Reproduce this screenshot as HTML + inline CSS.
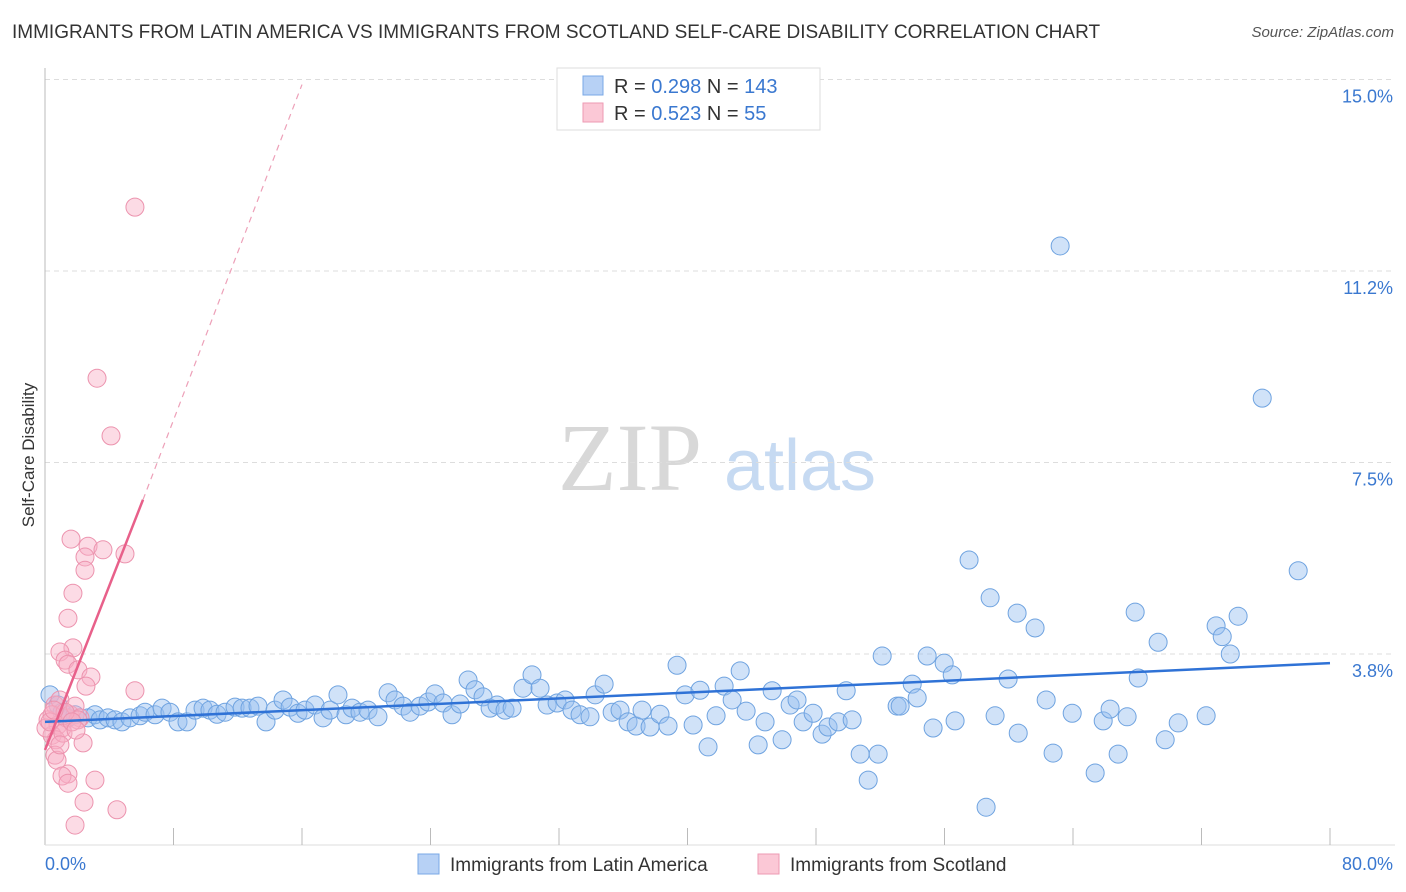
<!DOCTYPE html>
<html><head><meta charset="utf-8"><style>
body{margin:0;background:#fff;font-family:"Liberation Sans",sans-serif;}
#wrap{position:relative;width:1406px;height:892px;overflow:hidden;}
.t{position:absolute;white-space:nowrap;}
</style></head><body>
<div id="wrap">
<div class="t" style="left:12px;top:22px;font-size:19px;color:#333;">IMMIGRANTS FROM LATIN AMERICA VS IMMIGRANTS FROM SCOTLAND SELF-CARE DISABILITY CORRELATION CHART</div>
<div class="t" style="right:12px;top:24px;font-size:15px;color:#555;font-style:italic;">Source: ZipAtlas.com</div>
<svg id="svg" width="1406" height="892" style="position:absolute;left:0;top:0">
<text x="630" y="490" font-family="Liberation Serif,serif" font-size="96" fill="#d8d8d8" text-anchor="middle">ZIP</text>
<text x="800" y="490" font-family="Liberation Sans,sans-serif" font-size="72" fill="#c6daf2" text-anchor="middle">atlas</text>
<g id="grid"></g><g id="pts"></g><g id="trend"></g>
<g>
<rect x="557" y="68" width="263" height="62" fill="#fff" stroke="#ddd"/>
<rect x="583" y="76" width="20" height="19" fill="#b7d1f5" stroke="#7aa8e6"/>
<rect x="583" y="103" width="20" height="19" fill="#fbc8d6" stroke="#ee9ab3"/>
<text x="614" y="93" font-size="20" fill="#333">R = <tspan fill="#3a78d0">0.298</tspan>   N = <tspan fill="#3a78d0">143</tspan></text>
<text x="614" y="120" font-size="20" fill="#333">R = <tspan fill="#3a78d0">0.523</tspan>   N = <tspan fill="#3a78d0">  55</tspan></text>
</g>
<text x="0" y="0" transform="translate(34,455) rotate(-90)" font-size="17" fill="#333" text-anchor="middle">Self-Care Disability</text>
<g>
<rect x="418" y="854" width="21" height="20" fill="#b7d1f5" stroke="#7aa8e6"/>
<text x="450" y="871" font-size="19" fill="#333">Immigrants from Latin America</text>
<rect x="758" y="854" width="21" height="20" fill="#fbc8d6" stroke="#ee9ab3"/>
<text x="790" y="871" font-size="19" fill="#333">Immigrants from Scotland</text>
</g>
</svg>
</div>
<script>
const yTicks=[3.75,7.5,11.25,15];
const yTickLabels=["3.8%","7.5%","11.2%","15.0%"];
const xTickCount=10;
const xLabels=["0.0%","80.0%"];
const blueX=[.31,.81,1.06,1.43,1.87,2.68,3.11,3.43,3.92,4.36,4.79,5.29,5.92,6.23,6.85,7.29,7.78,8.28,8.84,9.34,9.84,10.27,10.71,11.21,11.83,12.27,12.76,13.26,13.76,14.32,14.82,15.26,15.75,16.19,16.81,17.31,17.75,18.24,18.74,19.12,19.61,20.11,20.73,21.36,21.79,22.29,22.73,23.35,23.85,24.28,24.78,25.34,25.84,26.34,26.77,27.27,27.71,28.14,28.64,29.08,29.76,30.32,30.82,31.26,31.88,32.38,32.81,33.31,33.93,34.25,34.81,35.31,35.80,36.30,36.80,37.17,37.67,38.29,38.79,39.35,39.85,40.35,40.78,41.28,41.78,42.28,42.78,43.28,43.65,44.40,44.83,45.27,45.89,46.39,46.82,47.20,47.82,48.38,48.75,49.38,49.88,50.25,50.75,51.25,51.87,52.12,53.05,53.24,53.99,54.30,54.92,55.29,55.98,56.48,56.66,57.53,58.59,58.84,59.15,59.96,60.52,60.59,61.64,62.33,62.76,63.20,63.95,65.38,65.88,66.31,66.81,67.37,67.87,68.06,69.30,69.74,70.55,72.29,72.91,73.29,73.79,74.28,75.78,78.02];
const blueY=[2.95,2.75,2.61,2.50,2.56,2.50,2.56,2.46,2.50,2.46,2.42,2.50,2.54,2.61,2.56,2.69,2.61,2.42,2.42,2.65,2.69,2.65,2.57,2.61,2.71,2.69,2.69,2.73,2.42,2.65,2.85,2.71,2.59,2.65,2.75,2.50,2.65,2.95,2.56,2.69,2.61,2.65,2.52,2.99,2.85,2.73,2.61,2.73,2.81,2.97,2.79,2.56,2.77,3.24,3.05,2.91,2.69,2.75,2.65,2.69,3.08,3.34,3.08,2.75,2.79,2.85,2.65,2.56,2.52,2.95,3.16,2.61,2.65,2.42,2.34,2.65,2.32,2.57,2.34,3.53,2.95,2.36,3.04,1.93,2.54,3.12,2.85,3.42,2.63,1.97,2.42,3.03,2.07,2.75,2.85,2.42,2.59,2.18,2.32,2.42,3.03,2.46,1.79,1.28,1.79,3.71,2.73,2.73,3.16,2.89,3.71,2.30,3.57,3.34,2.44,5.59,0.75,4.85,2.54,3.26,4.55,2.20,4.26,2.85,1.81,11.74,2.59,1.42,2.44,2.67,1.79,2.52,4.57,3.28,3.98,2.07,2.40,2.54,4.30,4.09,3.75,4.49,8.76,5.38];
const pinkX=[5.60,3.24,4.11,1.62,2.68,3.61,2.49,2.49,4.98,1.74,1.43,1.74,.93,1.25,1.43,2.05,2.86,2.55,5.60,.62,.93,.19,.44,.81,1.06,1.31,1.56,1.87,2.18,.44,.68,.06,.31,.62,1.12,2.05,2.37,.75,1.43,1.06,1.43,3.11,2.43,1.87,4.48,1.25,1.68,.93,.56,1.93];
const pinkY=[12.50,9.15,8.02,6.00,5.86,5.79,5.65,5.39,5.71,4.94,4.45,3.87,3.79,3.63,3.55,3.44,3.30,3.12,3.03,2.75,2.85,2.46,2.56,2.36,2.30,2.50,2.56,2.73,2.50,2.16,2.07,2.30,2.42,1.77,2.20,2.46,2.01,1.67,1.40,1.36,1.22,1.28,.85,.40,.70,2.61,2.42,1.97,2.65,2.26];
const blueTrend=[0,2.42,80,3.57];
const pinkTrend=[0,1.87,6.1,6.77,16.0,14.9];

const X0=45,X1=1330,Y0=845.5,PPY=51.07;
function sx(v){return X0+(X1-X0)*v/80;}
function sy(v){return Y0-PPY*v;}
const NS="http://www.w3.org/2000/svg";
function mk(tag,attrs,parent){const e=document.createElementNS(NS,tag);for(const k in attrs)e.setAttribute(k,attrs[k]);parent.appendChild(e);return e;}
const grid=document.getElementById('grid'),svg=document.getElementById('svg');
yTicks.forEach((v,i)=>{
 const l=mk('line',{x1:X0,x2:1395,y1:sy(v),y2:sy(v),stroke:'#ddd','stroke-dasharray':'5,4'},grid);
 
 
 const t=mk('text',{x:1393,y:sy(v)+23,'font-size':18,fill:'#3a78d0','text-anchor':'end'},grid);
 t.textContent=yTickLabels[i];
 
 
});
const ax=mk('line',{x1:X0,x2:X0,y1:68,y2:845,stroke:'#bbb'},grid);


const bx=mk('line',{x1:X0,x2:1395,y1:845,y2:845,stroke:'#ddd'},grid);


for(let i=1;i<=xTickCount;i++){
 const v=i*80/xTickCount;
 const tk=mk('line',{x1:sx(v),x2:sx(v),y1:828,y2:845,stroke:'#bbb'},grid);
 
 
}
const xl0=mk('text',{x:45,y:870,'font-size':18,fill:'#3a78d0'},grid);xl0.textContent=xLabels[0];


const xl1=mk('text',{x:1393,y:870,'font-size':18,fill:'#3a78d0','text-anchor':'end'},grid);xl1.textContent=xLabels[1];


const pts=document.getElementById('pts');
blueX.forEach((x,i)=>{
 const c=mk('circle',{cx:sx(x),cy:sy(blueY[i]),r:9,fill:'rgba(150,190,240,0.45)',stroke:'#6fa3e0','stroke-width':1},pts);
 
 
});
pinkX.forEach((x,i)=>{
 const c=mk('circle',{cx:sx(x),cy:sy(pinkY[i]),r:9,fill:'rgba(248,175,198,0.45)',stroke:'#ec93ae','stroke-width':1},pts);
 
 
});
const tr=document.getElementById('trend');
const bl=mk('line',{x1:sx(blueTrend[0]),y1:sy(blueTrend[1]),x2:sx(blueTrend[2]),y2:sy(blueTrend[3]),stroke:'#2f72d6','stroke-width':2.5},tr);


const pl=mk('line',{x1:sx(pinkTrend[0]),y1:sy(pinkTrend[1]),x2:sx(pinkTrend[2]),y2:sy(pinkTrend[3]),stroke:'#e8608a','stroke-width':2.5},tr);


const pd=mk('line',{x1:sx(pinkTrend[2]),y1:sy(pinkTrend[3]),x2:sx(pinkTrend[4]),y2:sy(pinkTrend[5]),stroke:'#eda0b8','stroke-width':1.2,'stroke-dasharray':'6,5'},tr);


</script>
</body></html>
